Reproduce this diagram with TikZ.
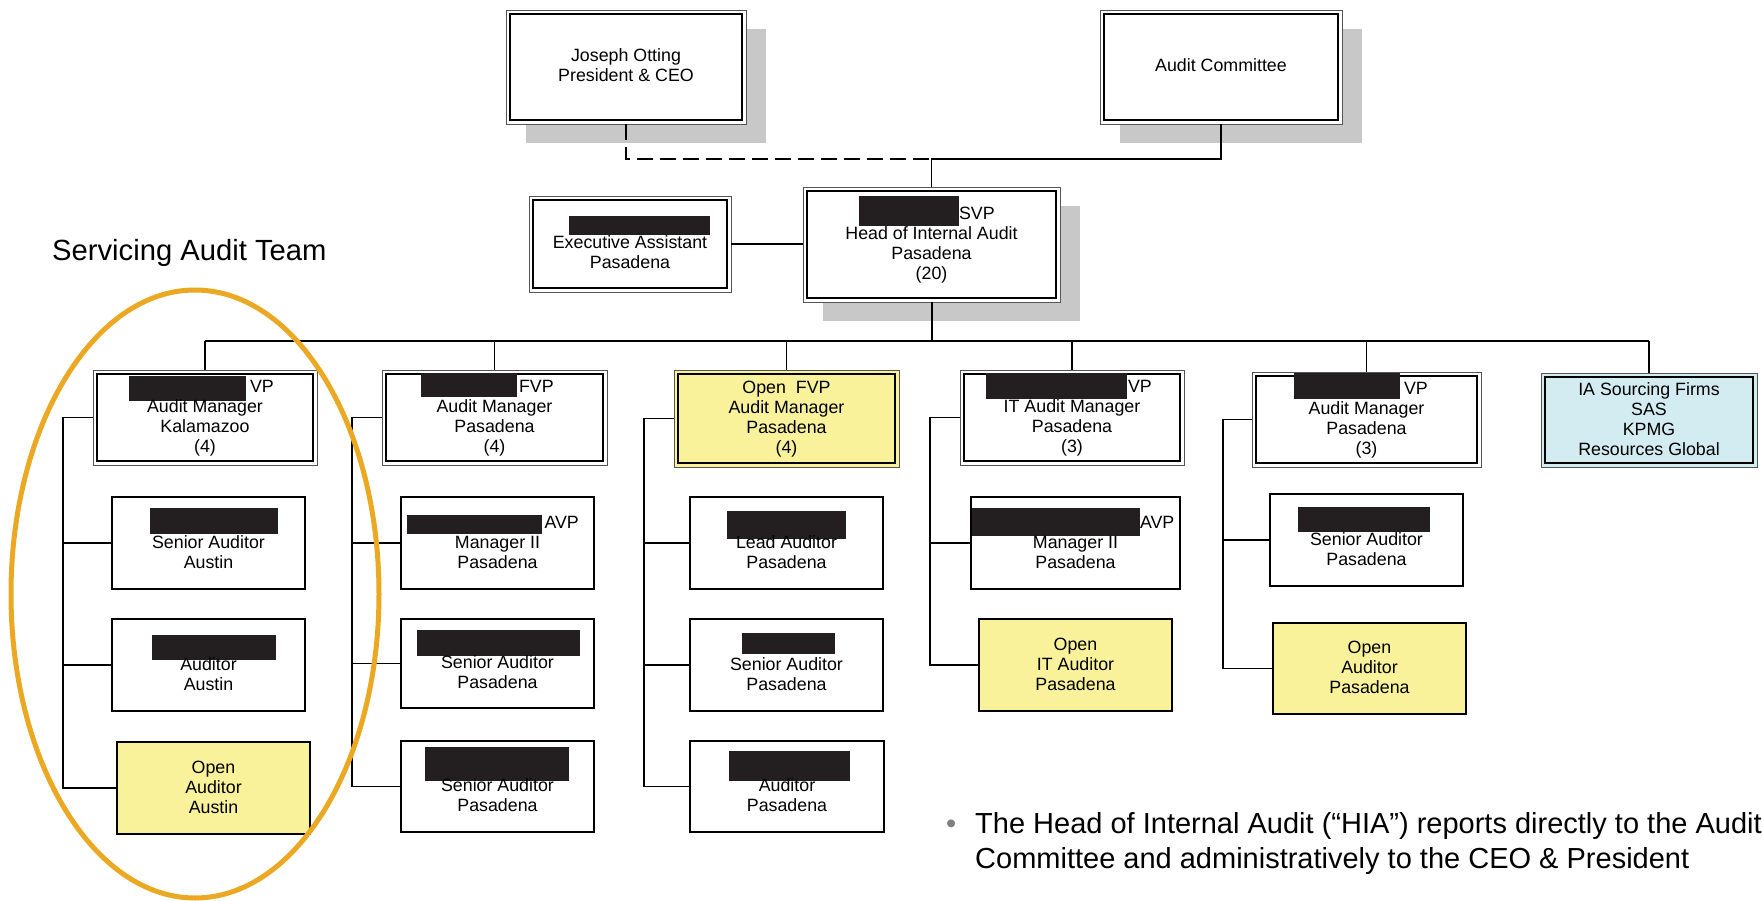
\documentclass[tikz,border=0pt]{standalone}
\usepackage{fontspec}
\setmainfont{Liberation Sans}
\usetikzlibrary{calc,shadows}
\definecolor{yel}{HTML}{F9F29B}
\definecolor{blu}{HTML}{D3ECF2}
\definecolor{shad}{HTML}{C8C8C8}
\definecolor{org}{HTML}{EBA823}
\definecolor{redact}{HTML}{231F20}
\definecolor{outerc}{HTML}{555555}
\definecolor{bulc}{HTML}{808080}
\newcommand{\boxfont}{\fontsize{17.8}{20}\selectfont}
\newcommand{\sst}{\rule[-5pt]{0pt}{20pt}}
% redaction bar: dx from line centre, raise, width, height, suffix text
\newcommand{\rb}[5]{\makebox[0pt][l]{\hspace*{#1pt}\smash{\textcolor{redact}{\rule[#2pt]{#3pt}{#4pt}}}#5}}
\tikzset{
  base/.style={rectangle, inner sep=0pt, align=center, font=\boxfont, text=black},
  sz/.style 2 args={minimum width=#1pt, minimum height=#2pt},
  dbl/.style={base, draw=outerc, line width=0.9pt, fill=white,
    path picture={\draw[black, line width=1.2pt]
      ($(path picture bounding box.south west)+(4,-4)$) rectangle
      ($(path picture bounding box.north east)+(-4,4)$);}},
  dbly/.style={dbl, fill=yel},
  dblb/.style={dbl, fill=blu},
  sgl/.style={base, draw=black, line width=1.3pt, fill=white},
  sgly/.style={sgl, fill=yel},
  shadowed/.style={drop shadow={shadow xshift=20pt, shadow yshift=-19pt, fill=shad, opacity=1, draw=none}},
  conn/.style={draw=black, line width=1.3pt},
  busl/.style={draw=black, line width=2pt},
  plain/.style={inner sep=0pt, text=black}
}
\begin{document}
\begin{tikzpicture}[x=1pt, y=-1pt]
\useasboundingbox (0,0) rectangle (1762,901);
\clip (0,0) rectangle (1762,901);
\fill[white] (0,0) rectangle (1762,901);

% top level
\node[dbl, shadowed, sz={240}{114}] (ceo) at (626,67) {\sst Joseph Otting\\\sst President \& CEO};
\node[dbl, shadowed, sz={242}{114}] (ac) at (1221,67) {\sst Audit Committee};
\node[dbl, sz={202}{96}] (exec) at (630,244) {\sst\rb{-61}{-6}{141}{19}{}\\\sst Executive Assistant\\\sst Pasadena};
\node[dbl, shadowed, sz={257}{115}] (hia) at (931.5,244.5) {\sst\rb{-72.5}{-6.5}{100}{30}{SVP}\\\sst Head of Internal Audit\\\sst Pasadena\\\sst (20)};

% managers
\node[dbl, sz={224}{95}] (m1) at (205,417.5) {\sst\rb{-76}{-8.5}{117}{25}{\hspace*{4pt}VP}\\\sst Audit Manager\\\sst Kalamazoo\\\sst (4)};
\node[dbl, sz={225}{95}] (m2) at (494.5,417.5) {\sst\rb{-73.5}{-4.5}{96}{24}{\hspace*{2pt}FVP}\\\sst Audit Manager\\\sst Pasadena\\\sst (4)};
\node[dbly, sz={225}{97}] (m3) at (786.5,418.5) {\sst Open\ \ FVP\\\sst Audit Manager\\\sst Pasadena\\\sst (4)};
\node[dbl, sz={224}{95}] (m4) at (1072,417.5) {\sst\rb{-86}{-6.5}{141}{26}{\hspace*{1pt}VP}\\\sst IT Audit Manager\\\sst Pasadena\\\sst (3)};
\node[dbl, sz={229}{95}] (m5) at (1366.5,419.5) {\sst\rb{-72.5}{-4.5}{106}{26}{\hspace*{4pt}VP}\\\sst Audit Manager\\\sst Pasadena\\\sst (3)};
\node[dblb, sz={216}{94}] (m6) at (1649,420) {\sst IA Sourcing Firms\\\sst SAS\\\sst KPMG\\\sst Resources Global};

% column 1
\node[sgl, sz={193}{92}] (c1r2) at (208.5,543) {\sst\rb{-58.5}{-6}{128}{26}{}\\\sst Senior Auditor\\\sst Austin};
\node[sgl, sz={193}{92}] (c1r3) at (208.5,665) {\sst\rb{-56.5}{-10}{124}{25}{}\\\sst Auditor\\\sst Austin};
\node[sgly, sz={193}{92}] (c1r4) at (213.5,788) {\sst Open\\\sst Auditor\\\sst Austin};
% column 2
\node[sgl, sz={193}{92}] (c2r2) at (497.5,543) {\sst\rb{-90.5}{-6}{135}{19}{\hspace*{2.5pt}AVP}\\\sst Manager II\\\sst Pasadena};
\node[sgl, sz={193}{89}] (c2r3) at (497.5,663.5) {\sst\rb{-80.5}{-7.5}{163}{26}{}\\\sst Senior Auditor\\\sst Pasadena};
\node[sgl, sz={193}{91}] (c2r4) at (497.5,786.5) {\sst\rb{-72.5}{-9.5}{144}{34}{}\\\sst Senior Auditor\\\sst Pasadena};
% column 3
\node[sgl, sz={193}{92}] (c3r2) at (786.5,543) {\sst\rb{-59.5}{-11}{119}{28}{}\\\sst Lead Auditor\\\sst Pasadena};
\node[sgl, sz={193}{92}] (c3r3) at (786.5,665) {\sst\rb{-44.5}{-4}{93}{21}{}\\\sst Senior Auditor\\\sst Pasadena};
\node[sgl, sz={194}{91}] (c3r4) at (787,786.5) {\sst\rb{-58}{-9.5}{121}{30}{}\\\sst Auditor\\\sst Pasadena};
% column 4
\node[sgl, sz={209}{92}] (c4r2) at (1075.5,543) {\sst\rb{-103.5}{-8}{168}{28}{AVP}\\\sst Manager II\\\sst Pasadena};
\node[sgly, sz={193}{92}] (c4r3) at (1075.5,665) {\sst Open\\\sst IT Auditor\\\sst Pasadena};
% column 5
\node[sgl, sz={193}{92}] (c5r2) at (1366.5,540) {\sst\rb{-68.5}{-7}{132}{25}{}\\\sst Senior Auditor\\\sst Pasadena};
\node[sgly, sz={193}{91}] (c5r3) at (1369.5,668.5) {\sst Open\\\sst Auditor\\\sst Pasadena};

% top connectors
\coordinate (jn) at (hia.north |- 0,159);
\draw[conn, dash pattern=on 16pt off 7pt] (ceo.south) |- (jn);
\draw[conn] (ac.south) |- (jn) -- (hia.north);
\draw[conn] (exec.east) -- (exec.east -| hia.west);

% bus
\coordinate (busy) at (0,341);
\draw[busl] (hia.south) -- (hia.south |- busy);
\draw[busl] (m1.north |- busy) -- (m6.north |- busy);
\foreach \m in {m1,m2,m3,m4,m5,m6} \draw[conn] (\m.north |- busy) -- (\m.north);

% column spines
\coordinate (s1) at (63,0);
\coordinate (s2) at (352,0);
\coordinate (s3) at (644,0);
\coordinate (s4) at (930,0);
\coordinate (s5) at (1223,0);
\draw[conn] (m1.west) -- (m1.west -| s1) |- (c1r4.west);
\draw[conn] (c1r2.west) -- (c1r2.west -| s1);
\draw[conn] (c1r3.west) -- (c1r3.west -| s1);
\draw[conn] (m2.west) -- (m2.west -| s2) |- (c2r4.west);
\draw[conn] (c2r2.west) -- (c2r2.west -| s2);
\draw[conn] (c2r3.west) -- (c2r3.west -| s2);
\draw[conn] (m3.west) -- (m3.west -| s3) |- (c3r4.west);
\draw[conn] (c3r2.west) -- (c3r2.west -| s3);
\draw[conn] (c3r3.west) -- (c3r3.west -| s3);
\draw[conn] (m4.west) -- (m4.west -| s4) |- (c4r3.west);
\draw[conn] (c4r2.west) -- (c4r2.west -| s4);
\draw[conn] (m5.west) -- (m5.west -| s5) |- (c5r3.west);
\draw[conn] (c5r2.west) -- (c5r2.west -| s5);

% texts
\node[plain, anchor=base west, font=\fontsize{29.2}{35}\selectfont] (sat) at (52,261) {Servicing Audit Team};
\node[plain, anchor=base west, text=bulc, font=\fontsize{29}{35}\selectfont] (bul) at (946,833) {•};
\node[plain, anchor=base west, font=\fontsize{29}{35}\selectfont] (t1) at (975,833) {The Head of Internal Audit (“HIA”) reports directly to the Audit};
\node[plain, anchor=base west, font=\fontsize{29}{35}\selectfont] (t2) at (975,868) {Committee and administratively to the CEO \& President};

% highlight ellipse
\draw[org, line width=5pt] (195,594) ellipse [x radius=184pt, y radius=304pt];
\end{tikzpicture}
\end{document}
